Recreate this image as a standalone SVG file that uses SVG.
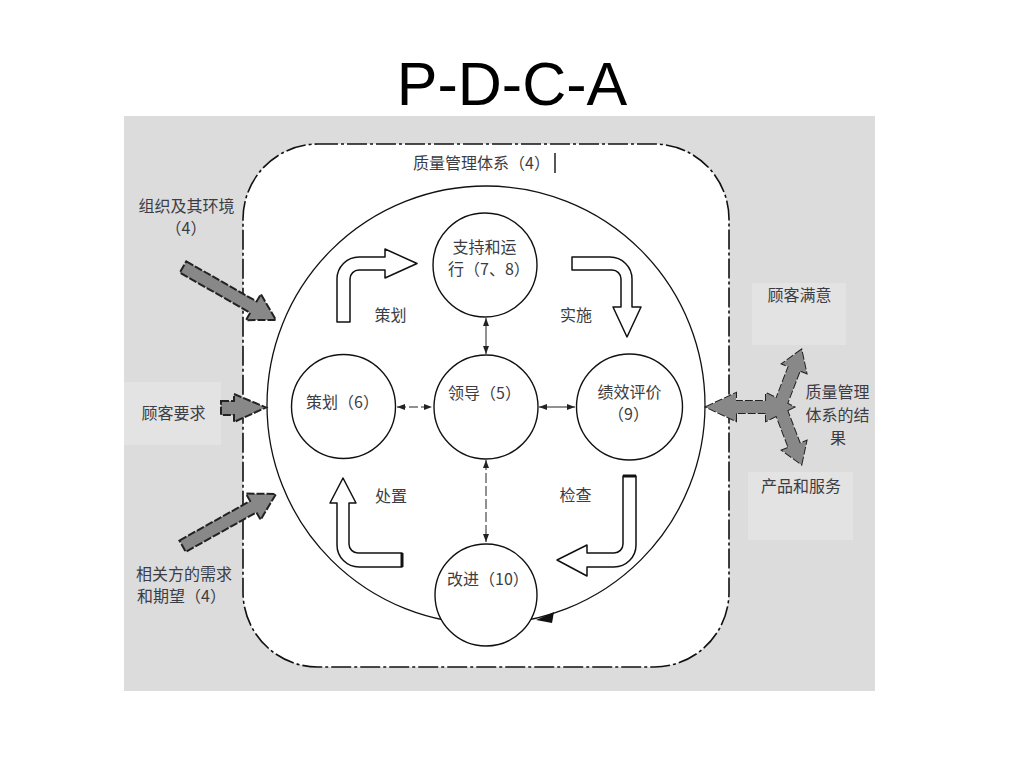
<svg xmlns="http://www.w3.org/2000/svg" width="1024" height="768" viewBox="0 0 1024 768">
  <defs>
    <style>
      .c{font-family:"Noto Sans CJK SC","Liberation Sans",sans-serif;font-size:16px;fill:#3c3c44}
      .node{fill:#fff;stroke:#111;stroke-width:1.4}
      .hollow{fill:#fff;stroke:#111;stroke-width:1.5;stroke-linejoin:round}
      .gray{fill:#888;stroke:#222;stroke-width:2;stroke-dasharray:8 2}
      .grayfill{fill:#888;stroke:none}
      .conn{stroke:#222;stroke-width:1;fill:none}
      .lightbox{fill:#e3e3e3}
    </style>
    <marker id="ah" viewBox="0 0 8 6" refX="8" refY="3" markerWidth="8" markerHeight="6" markerUnits="userSpaceOnUse" orient="auto-start-reverse">
      <path d="M0,0 L8,3 L0,6 z" fill="#222"/>
    </marker>
  </defs>

  <rect width="1024" height="768" fill="#fff"/>
  <text x="512" y="105" text-anchor="middle" style="font-family:'Liberation Sans',Arial,sans-serif;font-size:61px;fill:#000">P-D-C-A</text>

  <g id="panel">
    <rect x="124" y="116" width="751" height="575" fill="#dcdcdc"/>
    <rect class="lightbox" x="124" y="382" width="97" height="63"/>
    <rect class="lightbox" x="752" y="283" width="94" height="62"/>
    <rect class="lightbox" x="748" y="472" width="105" height="68"/>
  </g>

  <g id="qms-boundary">
    <rect x="243" y="144" width="486" height="523" rx="75" ry="75" fill="#fff" stroke="#111" stroke-width="1.6" stroke-dasharray="20 3 3 3"/>
    <text class="c" x="413" y="169">质量管理体系（4）</text>
    <line x1="555" y1="153" x2="555" y2="173" stroke="#111" stroke-width="1.4"/>
  </g>

  <g id="cycle">
    <circle cx="486" cy="405" r="219" fill="none" stroke="#111" stroke-width="1.3"/>
  </g>

  <g id="hollow-arrows">
    <path class="hollow" d="M337,322 L337,279 A22,22 0 0 1 359,257 L385,257 L385,249 L417,263.5 L385,278 L385,270 L359,270 A9,9 0 0 0 350,279 L350,322 Z"/>
    <path class="hollow" d="M572,257 L610,257 A22,22 0 0 1 632,279 L632,307 L641,307 L627,337 L613,307 L621,307 L621,279 A9,9 0 0 0 612,270 L572,270 Z"/>
    <path class="hollow" d="M623,476 L636,476 L636,545 A22,22 0 0 1 614,567 L587,567 L587,576 L557,560 L587,545 L587,553 L614,553 A9,9 0 0 0 623,544 Z"/>
    <line x1="623" y1="476" x2="636" y2="476" stroke="#111" stroke-width="3"/>
    <path class="hollow" d="M402,553 L358,553 A9,9 0 0 1 349,544 L349,503 L356,503 L343,478 L330,503 L337,503 L337,545 A22,22 0 0 0 359,567 L402,567 Z"/>
    <line x1="402" y1="553" x2="402" y2="567" stroke="#111" stroke-width="3"/>
  </g>

  <g id="connectors">
    <path class="conn" d="M486,318 L486,354" marker-start="url(#ah)" marker-end="url(#ah)"/>
    <path class="conn" d="M397,407 L432,407" stroke-dasharray="9 3" marker-start="url(#ah)" marker-end="url(#ah)"/>
    <path class="conn" d="M539,407 L575,407" marker-start="url(#ah)" marker-end="url(#ah)"/>
    <path class="conn" d="M486,460 L486,542" stroke-dasharray="10 3" marker-start="url(#ah)" marker-end="url(#ah)"/>
  </g>

  <g id="node-support">
    <circle class="node" cx="485" cy="265" r="52"/>
    <text class="c" x="484.5" y="253" text-anchor="middle">支持和运</text>
    <text class="c" x="448" y="275">行（7、8）</text>
  </g>
  <g id="node-planning">
    <circle class="node" cx="343.5" cy="406.5" r="52"/>
    <text class="c" x="306" y="408">策划（6）</text>
  </g>
  <g id="node-leadership">
    <circle class="node" cx="486" cy="407" r="52"/>
    <text class="c" x="448" y="399">领导（5）</text>
  </g>
  <g id="node-evaluation">
    <circle class="node" cx="629.5" cy="407" r="53"/>
    <text class="c" x="629.5" y="398" text-anchor="middle">绩效评价</text>
    <text class="c" x="628.5" y="420" text-anchor="middle">（9）</text>
  </g>
  <g id="node-improvement">
    <circle class="node" cx="486" cy="595" r="51"/>
    <text class="c" x="447" y="585">改进（10）</text>
  </g>
  <polygon points="536,620 554,612 552,623" fill="#111"/>

  <g id="phase-labels">
    <text class="c" x="390.5" y="321" text-anchor="middle">策划</text>
    <text class="c" x="576" y="321" text-anchor="middle">实施</text>
    <text class="c" x="391" y="502" text-anchor="middle">处置</text>
    <text class="c" x="575.5" y="501" text-anchor="middle">检查</text>
  </g>

  <g id="input-org">
    <g transform="translate(276,320) rotate(29.7)">
      <path class="gray" d="M-107,-6.5 L-26,-6.5 L-26,-15 L0,0 L-26,15 L-26,6.5 L-107,6.5 Z"/>
    </g>
    <text class="c" x="186.5" y="212" text-anchor="middle">组织及其环境</text>
    <text class="c" x="186" y="234" text-anchor="middle">（4）</text>
  </g>
  <g id="input-customer">
    <path class="gray" d="M221,401 L234,401 L234,394 L266,407.5 L234,422 L234,415 L221,415 Z"/>
    <text class="c" x="173.5" y="419" text-anchor="middle">顾客要求</text>
  </g>
  <g id="input-parties">
    <g transform="translate(276,494) rotate(-29.2)">
      <path class="gray" d="M-107,-6.5 L-26,-6.5 L-26,-15 L0,0 L-26,15 L-26,6.5 L-107,6.5 Z"/>
    </g>
    <text class="c" x="184" y="580" text-anchor="middle">相关方的需求</text>
    <text class="c" x="137" y="602">和期望（4）</text>
  </g>

  <g id="output-results">
    <g>
      <path class="gray" d="M706,407 L736,393 L736,401 L766,401 L766,393 L794,407 L766,421 L766,413 L736,413 L736,421 Z"/>
      <g transform="translate(781,403) rotate(-69)"><path class="gray" d="M0,-6 L37,-6 L37,-13 L57,0 L37,13 L37,6 L0,6 Z"/></g>
      <g transform="translate(781,411) rotate(69)"><path class="gray" d="M0,-6 L37,-6 L37,-13 L57,0 L37,13 L37,6 L0,6 Z"/></g>
    </g>
    <g>
      <path class="grayfill" d="M706,407 L736,393 L736,401 L766,401 L766,393 L794,407 L766,421 L766,413 L736,413 L736,421 Z"/>
      <g transform="translate(781,403) rotate(-69)"><path class="grayfill" d="M0,-6 L37,-6 L37,-13 L57,0 L37,13 L37,6 L0,6 Z"/></g>
      <g transform="translate(781,411) rotate(69)"><path class="grayfill" d="M0,-6 L37,-6 L37,-13 L57,0 L37,13 L37,6 L0,6 Z"/></g>
    </g>
    <text class="c" x="799.5" y="301" text-anchor="middle">顾客满意</text>
    <text class="c" x="837.5" y="398" text-anchor="middle">质量管理</text>
    <text class="c" x="837.5" y="421" text-anchor="middle">体系的结</text>
    <text class="c" x="838" y="444" text-anchor="middle">果</text>
    <text class="c" x="801" y="492" text-anchor="middle">产品和服务</text>
  </g>
</svg>
